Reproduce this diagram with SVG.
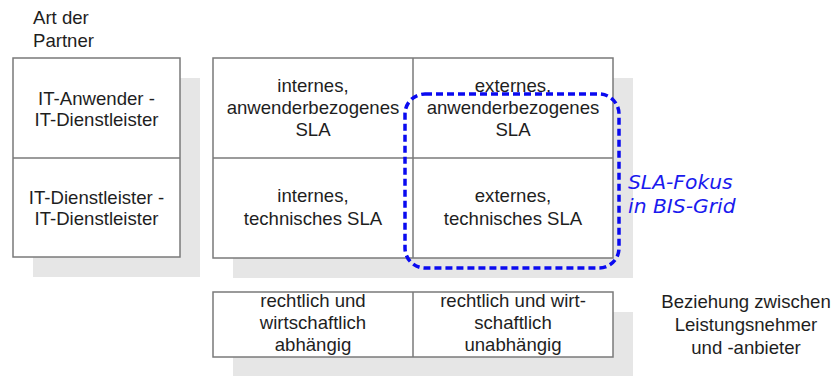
<svg xmlns="http://www.w3.org/2000/svg" width="833" height="376" viewBox="0 0 833 376">
  <style>
    .shadow { fill: #e6e6e6; }
    .box { fill: #ffffff; stroke: #7a7a7a; stroke-width: 1.5; }
    .div { stroke: #7a7a7a; stroke-width: 1.5; }
    .t { font-family: "Liberation Sans", Arial, sans-serif; font-size: 18.6px; fill: #1e1e1e; text-anchor: middle; }
    .lbl { font-family: "Liberation Sans", Arial, sans-serif; font-size: 18.6px; fill: #1e1e1e; }
    .focus { fill: none; stroke: #0a0af0; stroke-width: 3.5; stroke-dasharray: 7 4; }
    .note { font-family: "DejaVu Sans", Verdana, sans-serif; font-style: italic; font-size: 20.3px; fill: #1a1aee; }
  </style>

  <!-- axis label: partner type -->
  <g id="label-partner">
    <text class="lbl" x="33" y="24">Art der</text>
    <text class="lbl" x="33" y="47">Partner</text>
  </g>

  <!-- partner types column -->
  <g id="partner-column">
    <rect class="shadow" x="33" y="78" width="167" height="199"/>
    <rect class="box" x="13" y="58" width="167" height="199"/>
    <line class="div" x1="13" y1="158" x2="180" y2="158"/>
    <text class="t" x="96.5" y="105">IT-Anwender -</text>
    <text class="t" x="96.5" y="126">IT-Dienstleister</text>
    <text class="t" x="96.5" y="204">IT-Dienstleister -</text>
    <text class="t" x="96.5" y="225">IT-Dienstleister</text>
  </g>

  <!-- SLA grid -->
  <g id="sla-grid">
    <rect class="shadow" x="233" y="78" width="400" height="200"/>
    <rect class="box" x="213" y="58" width="400" height="200"/>
    <line class="div" x1="213" y1="158" x2="613" y2="158"/>
    <line class="div" x1="413" y1="58" x2="413" y2="258"/>
    <text class="t" x="313" y="92">internes,</text>
    <text class="t" x="313" y="114">anwenderbezogenes</text>
    <text class="t" x="313" y="136">SLA</text>
    <text class="t" x="513" y="92">externes,</text>
    <text class="t" x="513" y="114">anwenderbezogenes</text>
    <text class="t" x="513" y="136">SLA</text>
    <text class="t" x="313" y="202">internes,</text>
    <text class="t" x="313" y="225">technisches SLA</text>
    <text class="t" x="513" y="202">externes,</text>
    <text class="t" x="513" y="225">technisches SLA</text>
  </g>

  <!-- relationship row -->
  <g id="relation-row">
    <rect class="shadow" x="233" y="312" width="400" height="64"/>
    <rect class="box" x="213" y="292" width="400" height="65"/>
    <line class="div" x1="413" y1="292" x2="413" y2="357"/>
    <text class="t" x="313" y="307">rechtlich und</text>
    <text class="t" x="313" y="329">wirtschaftlich</text>
    <text class="t" x="313" y="351">abhängig</text>
    <text class="t" x="513" y="307">rechtlich und wirt-</text>
    <text class="t" x="513" y="329">schaftlich</text>
    <text class="t" x="513" y="351">unabhängig</text>
  </g>

  <!-- axis label: relationship -->
  <g id="label-relation">
    <text class="t" x="746" y="308">Beziehung zwischen</text>
    <text class="t" x="746" y="331">Leistungsnehmer</text>
    <text class="t" x="746" y="354">und -anbieter</text>
  </g>

  <!-- focus highlight -->
  <g id="focus">
    <rect class="focus" x="405" y="94" width="214" height="174" rx="20" ry="20"/>
    <text class="note" x="628" y="189">SLA-Fokus</text>
    <text class="note" x="628" y="213">in BIS-Grid</text>
  </g>
</svg>
